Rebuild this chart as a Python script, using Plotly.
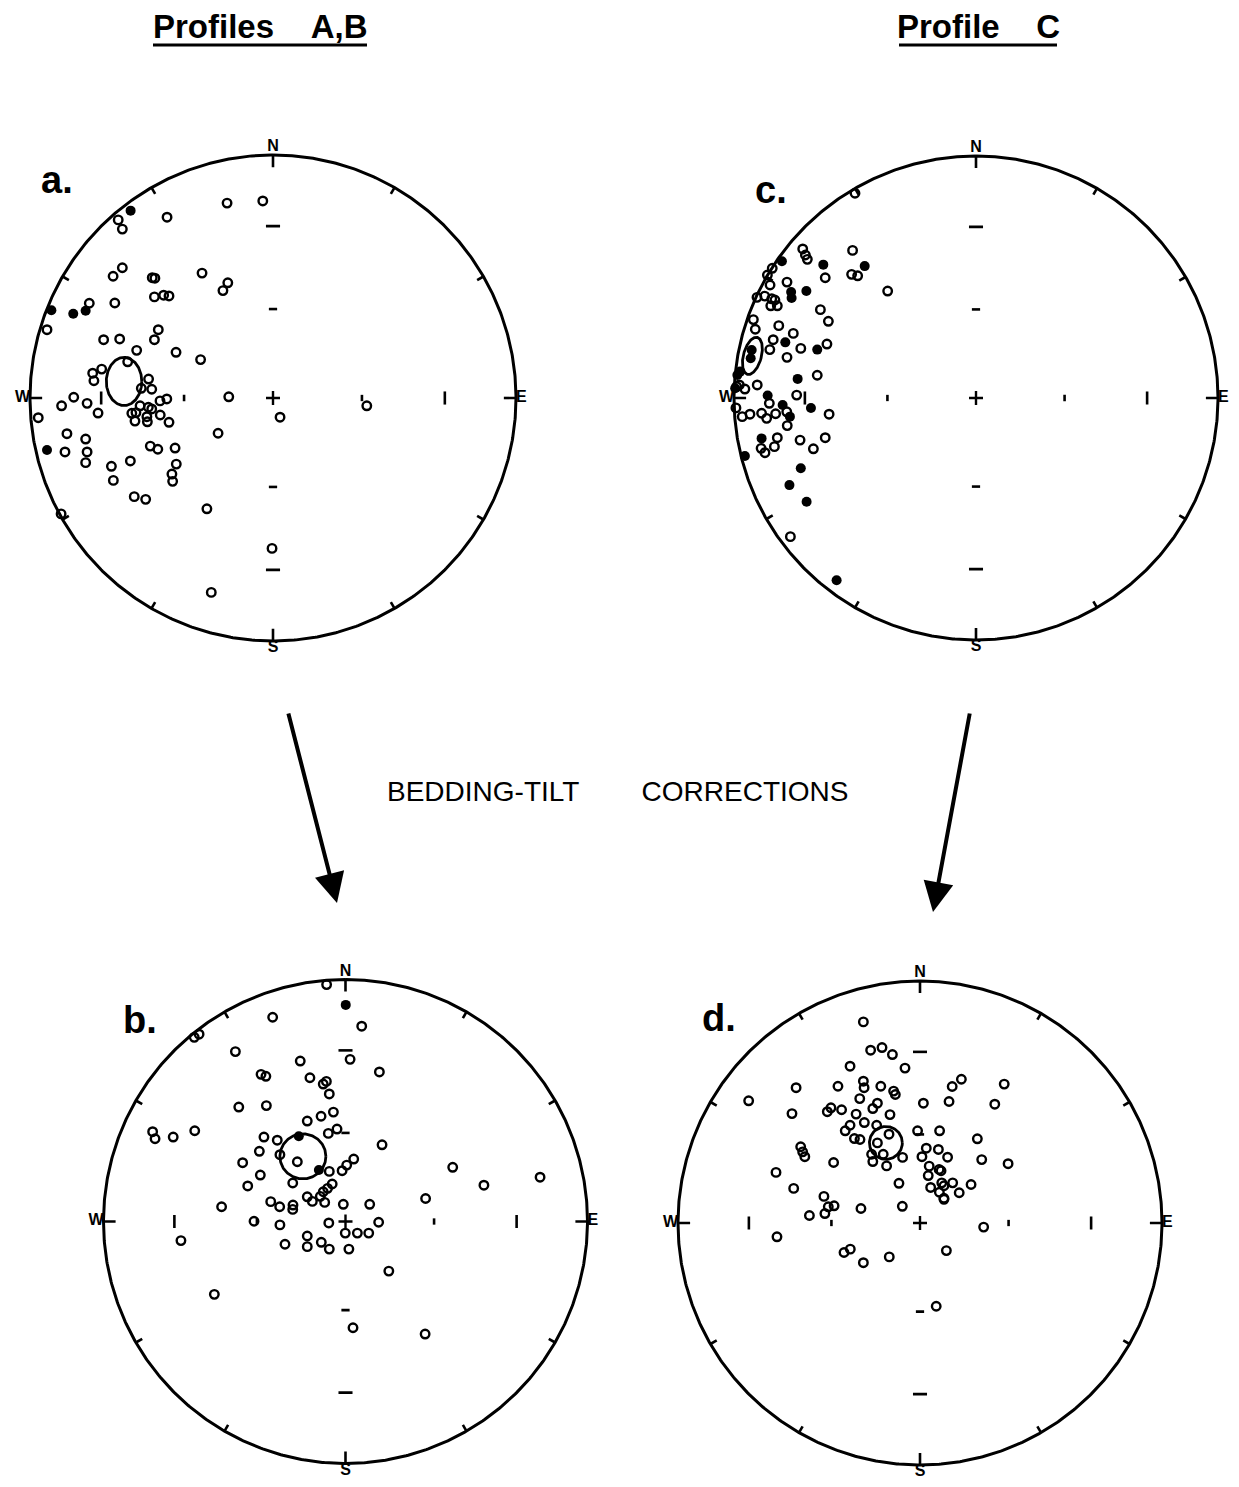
import numpy as np
import plotly.graph_objects as go

W, H = 1239, 1487          # window size
OFF = 8                    # default page margin around the plot div
FW, FH = W - 2 * OFF, H - 2 * OFF

# ---------------- data: normalised net coordinates (x = east, y = north, 1 = primitive circle) -----
a_open = [(-0.637, 0.733), (-0.620, 0.695), (-0.436, 0.744), (-0.189, 0.802), (-0.042, 0.811),
          (-0.620, 0.536), (-0.658, 0.501), (-0.497, 0.495), (-0.486, 0.493), (-0.292, 0.514),
          (-0.186, 0.474), (-0.206, 0.442), (-0.488, 0.416), (-0.450, 0.423), (-0.428, 0.420),
          (-0.756, 0.390), (-0.651, 0.391), (-0.930, 0.281), (-0.697, 0.240), (-0.631, 0.243),
          (-0.488, 0.240), (-0.472, 0.281), (-0.561, 0.196), (-0.399, 0.188), (-0.298, 0.158),
          (-0.598, 0.149), (-0.705, 0.119), (-0.742, 0.102), (-0.737, 0.071), (-0.512, 0.078),
          (-0.499, 0.036), (-0.542, 0.040), (-0.820, 0.003), (-0.437, -0.004), (-0.182, 0.005),
          (-0.870, -0.032), (-0.765, -0.022), (-0.966, -0.081), (-0.720, -0.062), (-0.547, -0.032),
          (-0.513, -0.038), (-0.499, -0.045), (-0.465, -0.012), (-0.581, -0.063), (-0.564, -0.060),
          (-0.568, -0.095), (-0.519, -0.077), (-0.517, -0.098), (-0.464, -0.070), (-0.428, -0.100),
          (0.029, -0.079), (-0.226, -0.145), (-0.848, -0.147), (-0.771, -0.169), (-0.856, -0.222),
          (-0.765, -0.222), (-0.771, -0.266), (-0.665, -0.281), (-0.587, -0.259), (-0.657, -0.339),
          (-0.505, -0.198), (-0.474, -0.211), (-0.403, -0.206), (-0.398, -0.272), (-0.416, -0.313),
          (-0.413, -0.343), (-0.571, -0.406), (-0.524, -0.417), (-0.272, -0.456), (-0.872, -0.477),
          (-0.004, -0.619), (-0.254, -0.800), (0.386, -0.032)]
a_filled = [(-0.586, 0.771), (-0.771, 0.359), (-0.822, 0.347), (-0.912, 0.361), (-0.930, -0.214)]
a_cone = (-0.613, 0.068, 0.073, 0.099, 0.0)   # centre x, centre y, semi-axis x, semi-axis y, tilt (deg)

b_open = [(-0.078, 0.979), (-0.301, 0.844), (-0.625, 0.761), (-0.605, 0.774), (-0.455, 0.702),
          (-0.187, 0.663), (0.019, 0.670), (-0.349, 0.608), (-0.329, 0.600), (-0.147, 0.594),
          (-0.092, 0.568), (-0.079, 0.579), (-0.067, 0.527), (-0.441, 0.473), (-0.327, 0.479),
          (-0.101, 0.435), (-0.050, 0.452), (-0.158, 0.415), (-0.797, 0.371), (-0.787, 0.342),
          (-0.712, 0.349), (-0.623, 0.375), (-0.337, 0.349), (-0.282, 0.336), (-0.071, 0.364),
          (-0.035, 0.382), (-0.356, 0.290), (-0.271, 0.276), (-0.199, 0.247), (-0.425, 0.243),
          (-0.352, 0.192), (-0.067, 0.207), (-0.014, 0.210), (0.005, 0.233), (0.034, 0.258),
          (-0.218, 0.159), (-0.404, 0.147), (-0.055, 0.155), (-0.074, 0.137), (-0.092, 0.123),
          (-0.104, 0.104), (-0.086, 0.079), (-0.158, 0.102), (-0.137, 0.083), (-0.309, 0.082),
          (-0.272, 0.061), (-0.217, 0.068), (-0.218, 0.050), (-0.009, 0.071), (-0.512, 0.061),
          (-0.378, 0.001), (-0.271, -0.014), (-0.069, -0.006), (0.067, 0.807), (0.140, 0.618),
          (0.151, 0.317), (0.443, 0.224), (0.572, 0.150), (0.804, 0.183), (0.331, 0.095),
          (0.100, 0.071), (0.137, -0.003), (-0.680, -0.079), (-0.158, -0.060), (-0.158, -0.104),
          (-0.250, -0.094), (-0.100, -0.086), (-0.067, -0.114), (-0.001, -0.048), (0.049, -0.048),
          (0.096, -0.048), (0.014, -0.114), (0.179, -0.205), (-0.542, -0.301), (0.031, -0.439),
          (0.329, -0.465)]
b_filled = [(0.001, 0.895), (-0.193, 0.352), (-0.110, 0.213)]
b_cone = (-0.176, 0.269, 0.095, 0.093, 0.0)

c_open = [(-0.500, 0.846), (-0.716, 0.616), (-0.705, 0.591), (-0.697, 0.573), (-0.842, 0.536),
          (-0.862, 0.508), (-0.851, 0.467), (-0.510, 0.610), (-0.514, 0.511), (-0.489, 0.505),
          (-0.623, 0.497), (-0.365, 0.442), (-0.781, 0.479), (-0.905, 0.416), (-0.873, 0.421),
          (-0.844, 0.410), (-0.831, 0.405), (-0.848, 0.381), (-0.821, 0.381), (-0.643, 0.365),
          (-0.610, 0.317), (-0.920, 0.324), (-0.912, 0.284), (-0.815, 0.299), (-0.755, 0.267),
          (-0.838, 0.241), (-0.852, 0.200), (-0.724, 0.205), (-0.616, 0.223), (-0.781, 0.168),
          (-0.656, 0.094), (-0.904, 0.054), (-0.978, 0.054), (-0.989, 0.047), (-0.955, 0.037),
          (-0.854, -0.022), (-0.741, 0.012), (-0.607, -0.067), (-0.992, -0.041), (-0.966, -0.077),
          (-0.934, -0.067), (-0.886, -0.063), (-0.865, -0.084), (-0.828, -0.065), (-0.782, -0.057),
          (-0.780, -0.114), (-0.821, -0.164), (-0.888, -0.208), (-0.872, -0.226), (-0.833, -0.201),
          (-0.727, -0.174), (-0.623, -0.164), (-0.672, -0.210), (-0.767, -0.573)]
c_filled = [(-0.802, 0.565), (-0.460, 0.545), (-0.631, 0.551), (-0.764, 0.438), (-0.762, 0.413),
            (-0.701, 0.442), (-0.788, 0.230), (-0.656, 0.200), (-0.927, 0.198), (-0.931, 0.164),
            (-0.737, 0.079), (-0.975, 0.109), (-0.986, 0.095), (-0.995, 0.040), (-0.861, 0.010),
            (-0.682, -0.041), (-0.799, -0.029), (-0.769, -0.077), (-0.886, -0.167), (-0.955, -0.240),
            (-0.724, -0.290), (-0.771, -0.360), (-0.700, -0.429), (-0.576, -0.753)]
c_cone = (-0.924, 0.174, 0.037, 0.079, 15.0)

d_open = [(-0.234, 0.831), (-0.204, 0.714), (-0.157, 0.725), (-0.114, 0.696), (-0.289, 0.648),
          (-0.062, 0.640), (-0.512, 0.559), (-0.339, 0.565), (-0.234, 0.586), (-0.231, 0.559),
          (-0.162, 0.565), (-0.109, 0.545), (-0.102, 0.531), (0.014, 0.495), (-0.708, 0.505),
          (-0.249, 0.514), (-0.176, 0.495), (-0.195, 0.473), (-0.529, 0.452), (-0.383, 0.460),
          (-0.368, 0.476), (-0.324, 0.468), (-0.264, 0.450), (-0.124, 0.448), (-0.230, 0.415),
          (-0.289, 0.404), (-0.309, 0.381), (-0.179, 0.404), (-0.010, 0.381), (-0.271, 0.349),
          (-0.248, 0.345), (-0.128, 0.367), (-0.176, 0.331), (-0.152, 0.284), (-0.200, 0.284),
          (-0.195, 0.254), (-0.138, 0.236), (-0.072, 0.271), (0.026, 0.309), (0.008, 0.274),
          (-0.493, 0.315), (-0.485, 0.294), (-0.476, 0.274), (-0.357, 0.250), (-0.595, 0.209),
          (-0.087, 0.164), (-0.522, 0.143), (-0.397, 0.110), (-0.379, 0.067), (-0.355, 0.071),
          (-0.393, 0.039), (-0.244, 0.060), (-0.073, 0.069), (-0.457, 0.031), (0.099, 0.098),
          (-0.591, -0.057), (0.263, -0.017), (-0.314, -0.122), (-0.288, -0.108), (-0.234, -0.164),
          (-0.127, -0.140), (0.109, -0.114), (0.067, -0.344), (0.133, 0.564), (0.171, 0.594),
          (0.348, 0.574), (0.120, 0.502), (0.309, 0.491), (0.081, 0.381), (0.237, 0.348),
          (0.076, 0.304), (0.114, 0.272), (0.255, 0.262), (0.364, 0.245), (0.038, 0.235),
          (0.034, 0.196), (0.079, 0.221), (0.087, 0.216), (0.044, 0.147), (0.090, 0.166),
          (0.099, 0.154), (0.135, 0.166), (0.080, 0.127), (0.099, 0.102), (0.162, 0.125),
          (0.211, 0.159)]
d_filled = []
d_cone = (-0.141, 0.331, 0.068, 0.068, 0.0)

panel_letters = ["a.", "b.", "c.", "d."]
directions = ["N", "E", "S", "W"]
inclination_marks = [30, 60]
column_titles = ["Profiles\u00a0\u00a0\u00a0\u00a0A,B", "Profile\u00a0\u00a0\u00a0\u00a0C"]
middle_text = "BEDDING-TILT" + "\u00a0" * 8 + "CORRECTIONS"

# ---------------- layout (pixel geometry of each net, in window pixels) ----------------
geom = {"a": (273, 398, 243), "b": (345.5, 1221.5, 242), "c": (976, 398, 242), "d": (920, 1223, 242)}
letter_pos = {"a": (57, 180), "b": (140, 1020), "c": (771, 190), "d": (719, 1018)}
FONT = "Liberation Sans, Arial, Helvetica, sans-serif"
EXT = 1.04


def fx(px):
    return (px - OFF) / FW


def fy(py):
    return 1 - (py - OFF) / FH


panels = [("a", a_open, a_filled, a_cone), ("b", b_open, b_filled, b_cone),
          ("c", c_open, c_filled, c_cone), ("d", d_open, d_filled, d_cone)]

fig = go.Figure()
layout_axes = {}
annotations = []

for i, (name, opens, fills, cone) in enumerate(panels, start=1):
    cx, cy, r = geom[name]
    xa = "x" if i == 1 else f"x{i}"
    ya = "y" if i == 1 else f"y{i}"
    e = EXT * r
    layout_axes["xaxis" if i == 1 else f"xaxis{i}"] = dict(
        domain=[fx(cx - e), fx(cx + e)], range=[-EXT, EXT], visible=False,
        anchor=ya, fixedrange=True)
    layout_axes["yaxis" if i == 1 else f"yaxis{i}"] = dict(
        domain=[fy(cy + e), fy(cy - e)], range=[-EXT, EXT], visible=False,
        anchor=xa, fixedrange=True)
    common = dict(xaxis=xa, yaxis=ya, showlegend=False, hoverinfo="skip")

    # primitive circle
    t = np.linspace(0, 2 * np.pi, 721)
    fig.add_trace(go.Scatter(x=np.sin(t), y=np.cos(t), mode="lines",
                             line=dict(color="black", width=3), **common))
    # perimeter ticks and axis inclination marks
    tx, ty = [], []
    for az in range(0, 360, 30):
        L = 0.05 if az % 90 == 0 else 0.03
        s, c = np.sin(np.radians(az)), np.cos(np.radians(az))
        tx += [s, (1 - L) * s, None]
        ty += [c, (1 - L) * c, None]
    for inc, hv, hh in zip(inclination_marks, [0.027, 0.013], [0.029, 0.017]):
        p = np.sqrt(2) * np.sin(np.radians((90 - inc) / 2))
        for sg in (1, -1):
            tx += [sg * p, sg * p, None]
            ty += [-hv, hv, None]
            tx += [-hh, hh, None]
            ty += [sg * p, sg * p, None]
    fig.add_trace(go.Scatter(x=tx, y=ty, mode="lines",
                             line=dict(color="black", width=2.6), **common))
    # centre cross
    fig.add_trace(go.Scatter(x=[0], y=[0], mode="markers",
                             marker=dict(symbol="cross-thin", size=10,
                                         line=dict(width=2.4, color="black")), **common))
    # alpha-95 cone
    ex0, ey0, sx, sy, tilt = cone
    u = np.linspace(0, 2 * np.pi, 181)
    px, py = sx * np.cos(u), sy * np.sin(u)
    th = np.radians(tilt)
    fig.add_trace(go.Scatter(x=ex0 + px * np.cos(th) + py * np.sin(th),
                             y=ey0 - px * np.sin(th) + py * np.cos(th), mode="lines",
                             line=dict(color="black", width=2.8), **common))
    # directions
    if opens:
        fig.add_trace(go.Scatter(x=[p[0] for p in opens], y=[p[1] for p in opens], mode="markers",
                                 marker=dict(symbol="circle-open", size=8.5, color="black",
                                             line=dict(width=2.4, color="black")),
                                 cliponaxis=False, **common))
    if fills:
        fig.add_trace(go.Scatter(x=[p[0] for p in fills], y=[p[1] for p in fills], mode="markers",
                                 marker=dict(symbol="circle", size=10, color="black"),
                                 cliponaxis=False, **common))
    # N E S W labels
    fig.add_trace(go.Scatter(x=[0, 1.0, 0, -1.0], y=[1.0, 0, -0.997, 0], mode="text",
                             text=directions,
                             textposition=["top center", "middle right", "bottom center", "middle left"],
                             textfont=dict(family=FONT, size=16, color="black", weight="bold"),
                             cliponaxis=False, **common))
    lx, ly = letter_pos[name]
    annotations.append(dict(text=panel_letters[i - 1], x=fx(lx), y=fy(ly), xref="paper",
                            yref="paper", showarrow=False, xanchor="center", yanchor="middle",
                            font=dict(family=FONT, size=38, color="black", weight="bold")))

# column titles and middle text
for txt, xc in zip(column_titles, [260, 978]):
    annotations.append(dict(text=txt, x=fx(xc), y=fy(27), xref="paper", yref="paper",
                            showarrow=False, xanchor="center", yanchor="middle",
                            font=dict(family=FONT, size=33, color="black", weight="bold")))
annotations.append(dict(text=middle_text, x=fx(618), y=fy(792), xref="paper", yref="paper",
                        showarrow=False, xanchor="center", yanchor="middle",
                        font=dict(family=FONT, size=28, color="black")))
# arrows
for tip, off in [((337, 903), (-49, -191)), ((933, 912), (37, -200))]:
    annotations.append(dict(text="", x=fx(tip[0]), y=fy(tip[1]), xref="paper", yref="paper",
                            showarrow=True, ax=off[0], ay=off[1], arrowhead=2, arrowsize=1.5,
                            arrowwidth=4, arrowcolor="black", standoff=0))

shapes = [dict(type="line", xref="paper", yref="paper", x0=fx(x0), x1=fx(x1),
               y0=fy(45), y1=fy(45), line=dict(color="black", width=3))
          for x0, x1 in [(153, 367), (899, 1057)]]

fig.update_layout(width=FW, height=FH, autosize=False, margin=dict(l=0, r=0, t=0, b=0),
                  paper_bgcolor="white", plot_bgcolor="rgba(0,0,0,0)",
                  annotations=annotations, shapes=shapes, **layout_axes)

fig.write_html("out.html")
